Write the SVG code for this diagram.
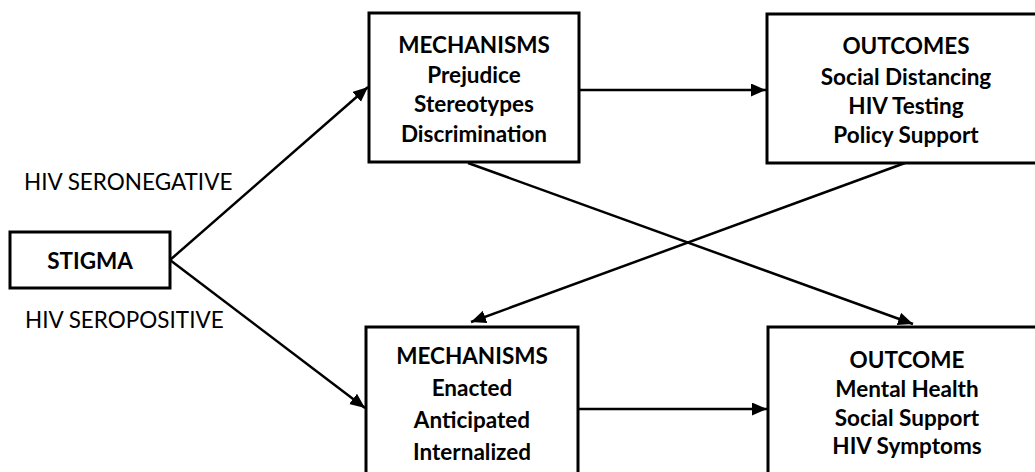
<svg xmlns="http://www.w3.org/2000/svg" width="1035" height="472" viewBox="0 0 1035 472">
<style>
.box{fill:#fff;stroke:#000;stroke-width:3}
.t{font-family:Lato,"Liberation Sans",sans-serif;font-weight:bold;font-size:22.5px;text-anchor:middle;fill:#000}
.lbl{font-family:Lato,"Liberation Sans",sans-serif;font-size:22.5px;fill:#000}
.c{stroke:#000;stroke-width:2.5;fill:none;marker-end:url(#ah)}
</style>
<defs>
<marker id="ah" markerUnits="userSpaceOnUse" markerWidth="16" markerHeight="14" refX="15" refY="6.5" orient="auto">
<path d="M0,0 L15,6.5 L0,13 z" fill="#000"/>
</marker>
</defs>
<rect width="1035" height="472" fill="#fff"/>
<g id="connectors">
<line class="c" x1="170" y1="260" x2="368" y2="87"/>
<line class="c" x1="170" y1="260" x2="365" y2="408"/>
<line class="c" x1="579" y1="90" x2="766" y2="90"/>
<line class="c" x1="578" y1="409" x2="767" y2="409"/>
<line class="c" x1="468" y1="163" x2="913" y2="324"/>
<line class="c" x1="905" y1="163" x2="471" y2="322"/>
</g>
<g id="stigma">
<rect class="box" x="10" y="232" width="160" height="56"/>
<text class="t" x="90" y="269">STIGMA</text>
</g>
<g id="label-seronegative">
<text class="lbl" x="24" y="190">HIV SERONEGATIVE</text>
</g>
<g id="label-seropositive">
<text class="lbl" x="25" y="328">HIV SEROPOSITIVE</text>
</g>
<g id="mechanisms-top">
<rect class="box" x="369" y="13" width="210" height="149"/>
<text class="t" x="474" y="53">MECHANISMS</text>
<text class="t" x="474" y="83">Prejudice</text>
<text class="t" x="474" y="112">Stereotypes</text>
<text class="t" x="474" y="141.5">Discrimination</text>
</g>
<g id="outcomes-top">
<rect class="box" x="767" y="14" width="280" height="149"/>
<text class="t" x="906" y="54">OUTCOMES</text>
<text class="t" x="906" y="85">Social Distancing</text>
<text class="t" x="906" y="114">HIV Testing</text>
<text class="t" x="906" y="142.5">Policy Support</text>
</g>
<g id="mechanisms-bottom">
<rect class="box" x="366" y="327" width="212" height="160"/>
<text class="t" x="472" y="364">MECHANISMS</text>
<text class="t" x="472" y="396">Enacted</text>
<text class="t" x="472" y="428">Anticipated</text>
<text class="t" x="472" y="460">Internalized</text>
</g>
<g id="outcome-bottom">
<rect class="box" x="768" y="327" width="280" height="160"/>
<text class="t" x="907" y="368">OUTCOME</text>
<text class="t" x="907" y="397">Mental Health</text>
<text class="t" x="907" y="426">Social Support</text>
<text class="t" x="907" y="454">HIV Symptoms</text>
</g>
</svg>
